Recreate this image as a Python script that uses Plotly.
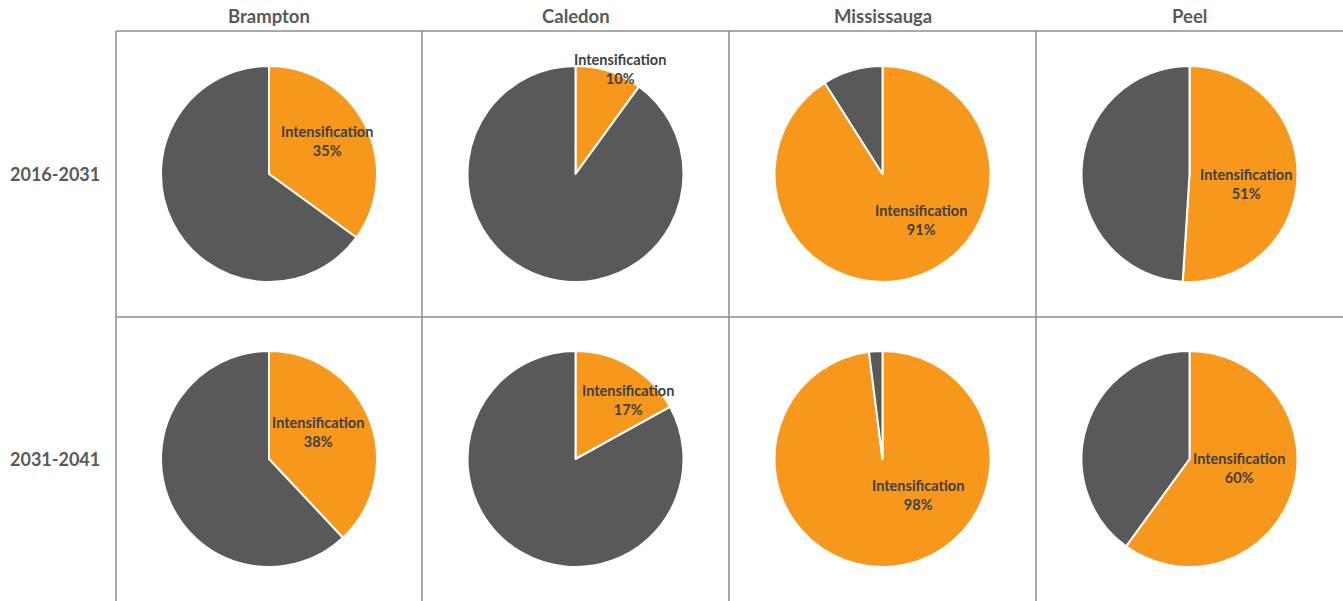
import math
import plotly.graph_objects as go

W, H = 1343, 601

regions = ["Brampton", "Caledon", "Mississauga", "Peel"]
periods = ["2016-2031", "2031-2041"]
slice_names = ["Intensification", "Other"]
# share of growth through intensification, %
intens_2016_2031 = [35, 10, 91, 51]
intens_2031_2041 = [38, 17, 98, 60]

ORANGE = "#F7981D"
GREY = "#595959"
LINE = "#8C8C8C"
FONT = "Lato"

# grid layout in pixels
col_edges = [116, 422, 729, 1036, 1343]
row_edges = [31, 317, 601]
pie_r = 108
pie_cy = [174, 459]
# label placement (angle from 12 o'clock clockwise, fraction of radius)
label_pos = [
    [(60, 0.62), (23, 1.06), (140, 0.55), (100, 0.53)],
    [(61, 0.52), (42, 0.73), (135, 0.47), (100, 0.47)],
]


def px(x):
    return x / W


def py(y):
    return 1 - y / H


fig = go.Figure()
annotations = []
shapes = []

for r, vals in enumerate([intens_2016_2031, intens_2031_2041]):
    for c, v in enumerate(vals):
        cx = (col_edges[c] + col_edges[c + 1]) / 2
        cy = pie_cy[r]
        fig.add_trace(go.Pie(
            labels=slice_names,
            values=[v, 100 - v],
            sort=False,
            direction="clockwise",
            rotation=0,
            marker=dict(colors=[ORANGE, GREY], line=dict(color="white", width=2)),
            textinfo="none",
            hoverinfo="label+percent",
            showlegend=False,
            domain=dict(x=[px(cx - pie_r), px(cx + pie_r)],
                        y=[py(cy + pie_r), py(cy - pie_r)]),
        ))
        ang, k = label_pos[r][c]
        lx = cx + k * pie_r * math.sin(math.radians(ang))
        ly = cy - k * pie_r * math.cos(math.radians(ang))
        annotations.append(dict(
            x=px(lx), y=py(ly), xref="paper", yref="paper",
            text=f"<b>Intensification<br>{v}%</b>", showarrow=False,
            font=dict(family=FONT, size=14.5, color="#404040"),
            xanchor="center", yanchor="middle",
        ))

# column headers
for c, name in enumerate(regions):
    cx = (col_edges[c] + col_edges[c + 1]) / 2
    annotations.append(dict(
        x=px(cx), y=py(16), xref="paper", yref="paper", text=f"<b>{name}</b>",
        showarrow=False, font=dict(family=FONT, size=18.5, color=GREY),
        xanchor="center", yanchor="middle",
    ))

# row headers
for r, name in enumerate(periods):
    annotations.append(dict(
        x=px(55), y=py(pie_cy[r]), xref="paper", yref="paper", text=f"<b>{name}</b>",
        showarrow=False, font=dict(family=FONT, size=18, color=GREY),
        xanchor="center", yanchor="middle",
    ))

# table lines
line = dict(color=LINE, width=1.5)
for y in row_edges[:2]:
    shapes.append(dict(type="line", xref="paper", yref="paper",
                       x0=px(col_edges[0]), x1=1, y0=py(y), y1=py(y), line=line))
for x in col_edges[:4]:
    shapes.append(dict(type="line", xref="paper", yref="paper",
                       x0=px(x), x1=px(x), y0=py(row_edges[0]), y1=0, line=line))

fig.update_layout(
    width=W, height=H,
    margin=dict(l=0, r=0, t=0, b=0),
    paper_bgcolor="white", plot_bgcolor="white",
    annotations=annotations, shapes=shapes,
    font=dict(family=FONT),
)

fig.write_html("out.html", config={"displayModeBar": False},
               post_script="document.body.style.margin='0';")
